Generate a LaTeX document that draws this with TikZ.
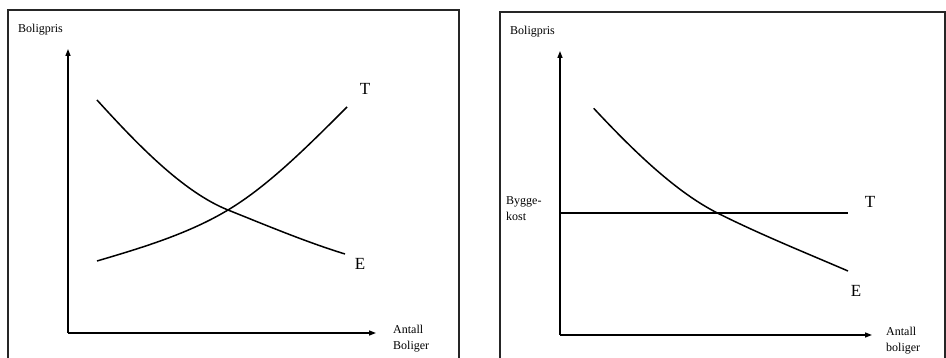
\documentclass[tikz,border=0pt]{standalone}
\usepackage{fontspec}
\setmainfont{Liberation Serif}
\usetikzlibrary{arrows.meta}
\begin{document}
\begin{tikzpicture}[x=1pt,y=-1pt,
  frame/.style={line width=1.4pt,draw=black!85},
  axis/.style={line width=1.3pt,-{Triangle[length=7pt,width=5pt]}},
  curve/.style={line width=1.5pt},
  lbl/.style={inner sep=0pt,anchor=west,font=\fontsize{12}{16}\selectfont,align=left},
  big/.style={inner sep=0pt,font=\fontsize{17}{20}\selectfont}]
\useasboundingbox (0,0) rectangle (946,358);
% left panel
\draw[frame] (8,362) -- (8,10) -- (459,10) -- (459,362);
\coordinate (o1) at (68,333);
\coordinate (y1) at (68,49);
\coordinate (x1) at (376,333);
\draw[axis] (o1) -- (y1);
\draw[axis] (o1) -- (x1);
\node[lbl] (bp1) at (18,30) {Boligpris};
\node[lbl] (ab1) at (393,339) {Antall\\Boliger};
\coordinate (eq1) at (228,210);
\draw[curve] (97,100) .. controls (137,144) and (183,192) .. (eq1)
  .. controls (267,225.6) and (306,242) .. (345,254);
\draw[curve] (97,261) .. controls (141,248) and (188,234) .. (eq1)
  .. controls (268,186) and (307,147) .. (347,107);
\node[big] (t1) at (365,89) {T};
\node[big] (e1) at (360,264) {E};
% right panel
\draw[frame] (500,362) -- (500,12) -- (945,12) -- (945,362);
\coordinate (o2) at (560,335);
\coordinate (y2) at (560,51);
\coordinate (x2) at (872,335);
\draw[axis] (o2) -- (y2);
\draw[axis] (o2) -- (x2);
\node[lbl] (bp2) at (510,32) {Boligpris};
\node[lbl] (ab2) at (886,341) {Antall\\boliger};
\node[lbl] (bk) at (506,209) {Bygge-\\kost};
\coordinate (ts) at (560,213);
\coordinate (te) at (848,213);
\draw[line width=1.1pt] (ts) -- (te);
\coordinate (eq2) at (718,213.3);
\draw[curve] (593.7,108.3) .. controls (634.7,152.3) and (677,192.8) .. (eq2)
  .. controls (761,234.8) and (805,252.5) .. (848,271);
\node[big] (t2) at (870,202) {T};
\node[big] (e2) at (856,291) {E};
\end{tikzpicture}
\end{document}
